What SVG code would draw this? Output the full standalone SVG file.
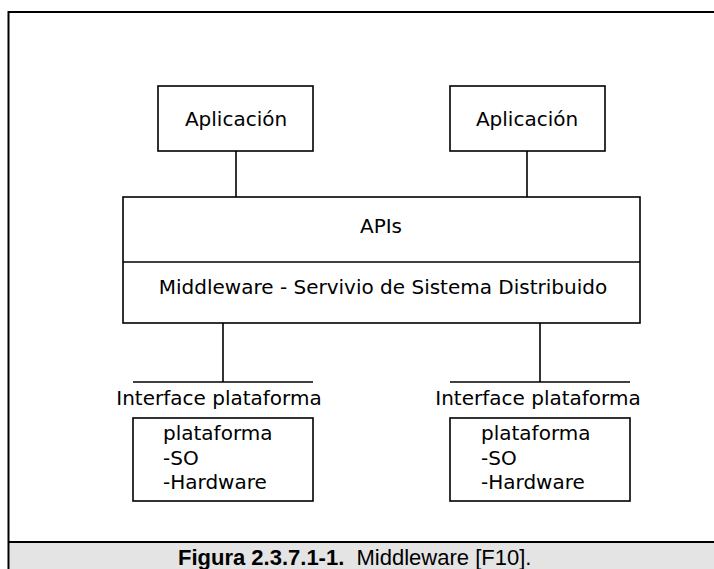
<svg xmlns="http://www.w3.org/2000/svg" width="714" height="569" viewBox="0 0 714 569">
<style>
.box{fill:#fff;stroke:#000;stroke-width:1.6}
.ln{stroke:#000;stroke-width:1.6;fill:none}
.t{font-family:"DejaVu Sans",Verdana,sans-serif;font-size:20px;fill:#000}
.c{text-anchor:middle}
.cap{font-family:"Liberation Sans",Arial,sans-serif;font-size:22px;fill:#000}
</style>
<rect x="0" y="0" width="714" height="569" fill="#fff"/>
<g id="frame">
<rect x="9.5" y="543" width="704.5" height="26" fill="#e4e4e4"/>
<path d="M8.5 569 V12 H714" fill="none" stroke="#000" stroke-width="2"/>
<line x1="8.5" y1="542" x2="714" y2="542" stroke="#000" stroke-width="2"/>
</g>
<g id="connectors">
<line class="ln" x1="236" y1="151" x2="236" y2="197"/>
<line class="ln" x1="527" y1="151" x2="527" y2="197"/>
<line class="ln" x1="223" y1="323" x2="223" y2="382"/>
<line class="ln" x1="540" y1="323" x2="540" y2="382"/>
</g>
<g id="app1">
<rect class="box" x="158" y="86" width="155" height="65"/>
<text class="t c" x="236" y="126">Aplicación</text>
</g>
<g id="app2">
<rect class="box" x="450" y="86" width="155" height="65"/>
<text class="t c" x="527" y="126">Aplicación</text>
</g>
<g id="middleware">
<rect class="box" x="123" y="197" width="517" height="126"/>
<line class="ln" x1="123" y1="262" x2="640" y2="262"/>
<text class="t c" x="381" y="233">APIs</text>
<text class="t c" x="383" y="294">Middleware - Servivio de Sistema Distribuido</text>
</g>
<g id="iface1">
<line class="ln" x1="133" y1="382" x2="313" y2="382"/>
<text class="t c" x="219" y="405">Interface plataforma</text>
</g>
<g id="iface2">
<line class="ln" x1="450" y1="382" x2="630" y2="382"/>
<text class="t c" x="538" y="405">Interface plataforma</text>
</g>
<g id="plat1">
<rect class="box" x="133" y="418" width="180" height="83"/>
<text class="t" x="163" y="440">plataforma</text>
<text class="t" x="163" y="465">-SO</text>
<text class="t" x="163" y="489">-Hardware</text>
</g>
<g id="plat2">
<rect class="box" x="450" y="418" width="180" height="83"/>
<text class="t" x="481" y="440">plataforma</text>
<text class="t" x="481" y="465">-SO</text>
<text class="t" x="481" y="489">-Hardware</text>
</g>
<g id="caption">
<text class="cap" x="178" y="565" xml:space="preserve"><tspan font-weight="bold">Figura 2.3.7.1-1.</tspan>  Middleware [F10].</text>
</g>
</svg>
